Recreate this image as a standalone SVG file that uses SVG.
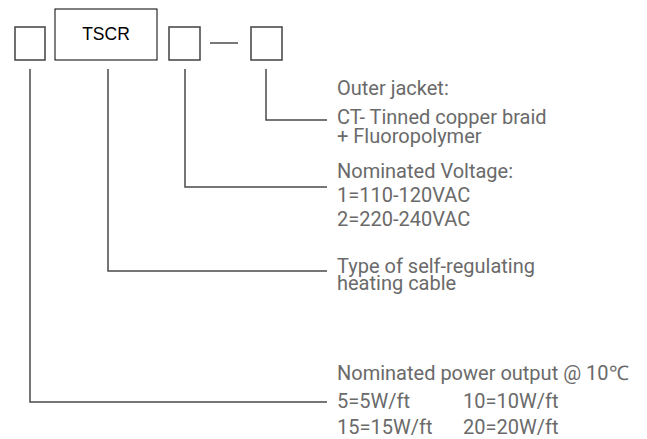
<svg xmlns="http://www.w3.org/2000/svg" width="647" height="439" viewBox="0 0 647 439">
<style>
.sq{fill:none;stroke:#4d4d4d;stroke-width:1.6}
.ln{fill:none;stroke:#4a4a4a;stroke-width:1.5}
.t{font-family:Roboto,"Liberation Sans",sans-serif;font-size:20px;fill:#6a6a6a}
</style>
<rect width="647" height="439" fill="#fff"/>
<g id="box1"><rect class="sq" x="15" y="27" width="30" height="33"/></g>
<g id="tscr"><rect x="55" y="9" width="102" height="51" fill="none" stroke="#000" stroke-width="1"/>
<text x="106" y="40" text-anchor="middle" font-family="'Liberation Sans',Arial,sans-serif" font-size="17.5" fill="#000">TSCR</text></g>
<g id="box3"><rect class="sq" x="169" y="27" width="31" height="33"/></g>
<g id="dash"><line class="ln" x1="210" y1="43" x2="238" y2="43"/></g>
<g id="box4"><rect class="sq" x="251" y="27" width="31" height="33"/></g>
<g id="connectors">
<polyline class="ln" points="30,69 30,402 327,402"/>
<polyline class="ln" points="108,69 108,271 327,271"/>
<polyline class="ln" points="185,69 185,187 327,187"/>
<polyline class="ln" points="266,69 266,120 327,120"/>
</g>
<g id="label-jacket">
<text class="t" x="337" y="95">Outer jacket:</text>
<text class="t" x="337" y="124">CT- Tinned copper braid</text>
<text class="t" x="337" y="143">+ Fluoropolymer</text>
</g>
<g id="label-voltage">
<text class="t" x="337" y="178">Nominated Voltage:</text>
<text class="t" x="337" y="202">1=110-120VAC</text>
<text class="t" x="337" y="226">2=220-240VAC</text>
</g>
<g id="label-type">
<text class="t" x="337" y="273">Type of self-regulating</text>
<text class="t" x="337" y="290">heating cable</text>
</g>
<g id="label-power">
<text class="t" x="337" y="380">Nominated power output @ 10℃</text>
<text class="t" x="337" y="408">5=5W/ft</text>
<text class="t" x="463" y="408">10=10W/ft</text>
<text class="t" x="337" y="434">15=15W/ft</text>
<text class="t" x="463" y="434">20=20W/ft</text>
</g>
</svg>
